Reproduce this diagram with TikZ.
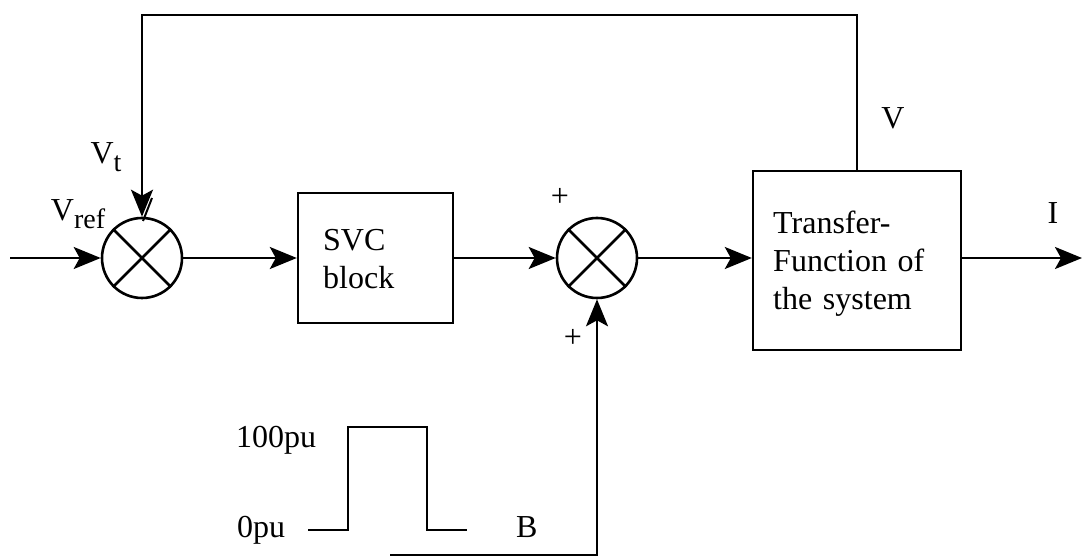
\documentclass[tikz,border=0pt]{standalone}
\usepackage{fontspec}
\setmainfont{Liberation Serif}
\usetikzlibrary{arrows.meta}
\begin{document}
\begin{tikzpicture}[x=0.5pt,y=-0.5pt,
  line width=1.2pt,
  every node/.style={font=\fontsize{16}{19}\selectfont, inner sep=0pt},
  sumj/.style={circle, draw, line width=1.3pt, minimum size=40pt},
  blockbox/.style={draw, line width=1.2pt, rectangle},
  arr/.style={-{Stealth[length=13.5pt,width=11pt,inset=3pt]}},
  lbl/.style={anchor=center}]
\useasboundingbox (0,0) rectangle (1085,560);
% summing junctions
\node[sumj] (s1) at (142,258) {};
\node[sumj] (s2) at (597,258) {};
\draw[line width=1.3pt] (s1.north west) -- (s1.south east) (s1.north east) -- (s1.south west);
\draw[line width=1.3pt] (s2.north west) -- (s2.south east) (s2.north east) -- (s2.south west);
% blocks
\node[blockbox, minimum width=77.5pt, minimum height=65pt] (svc) at (375.5,258) {};
\node[anchor=west, align=left, text width=60pt] at (322,259) {SVC\\block};
\node[blockbox, minimum width=104pt, minimum height=89.5pt] (tf) at (857,260.5) {};
\node[anchor=west, align=left, text width=98pt] at (772,264) {Transfer-\\Function of\\the system};
% coordinates
\coordinate (in) at (10,258);
\coordinate (out) at (1082,258);
\coordinate (fbtop) at (857,15);
\coordinate (fbleft) at (142,15);
\coordinate (bstart) at (390,555);
\coordinate (bcorner) at (597,555);
% connectors
\draw[arr] (in) -- (s1.west);
\draw[arr] (s1.east) -- (svc.west);
\draw[arr] (svc.east) -- (s2.west);
\draw[arr] (s2.east) -- (tf.west |- s2.east);
\draw[arr] (tf.east |- out) -- (out);
\draw[arr] (tf.north) -- (fbtop) -- (fbleft) -- (s1.north);
\draw[arr] (bstart) -- (bcorner) -- (s2.south);
% small mark at the first junction
\draw[line width=1pt] (143,221) -- (152,198);
% pulse
\draw (308,530) -- (348,530) -- (348,427) -- (427,427) -- (427,530) -- (467,530);
% labels
\node[lbl] (lvt) at (106,157) {V\raisebox{-0.5ex}{\fontsize{14}{16}\selectfont t}};
\node[lbl] (lvref) at (78,214) {V\raisebox{-0.5ex}{\fontsize{14}{16}\selectfont ref}};
\node[lbl] (lv) at (893,118) {V};
\node[lbl] (li) at (1053,213) {I};
\node[lbl] (lp1) at (560,197) {+};
\node[lbl] (lp2) at (573,338) {+};
\node[anchor=base west] (l100) at (235,447) {100pu};
\node[anchor=base west] (l0) at (236,537) {0pu};
\node[anchor=base west] (lb) at (515,537) {B};
\end{tikzpicture}
\end{document}
